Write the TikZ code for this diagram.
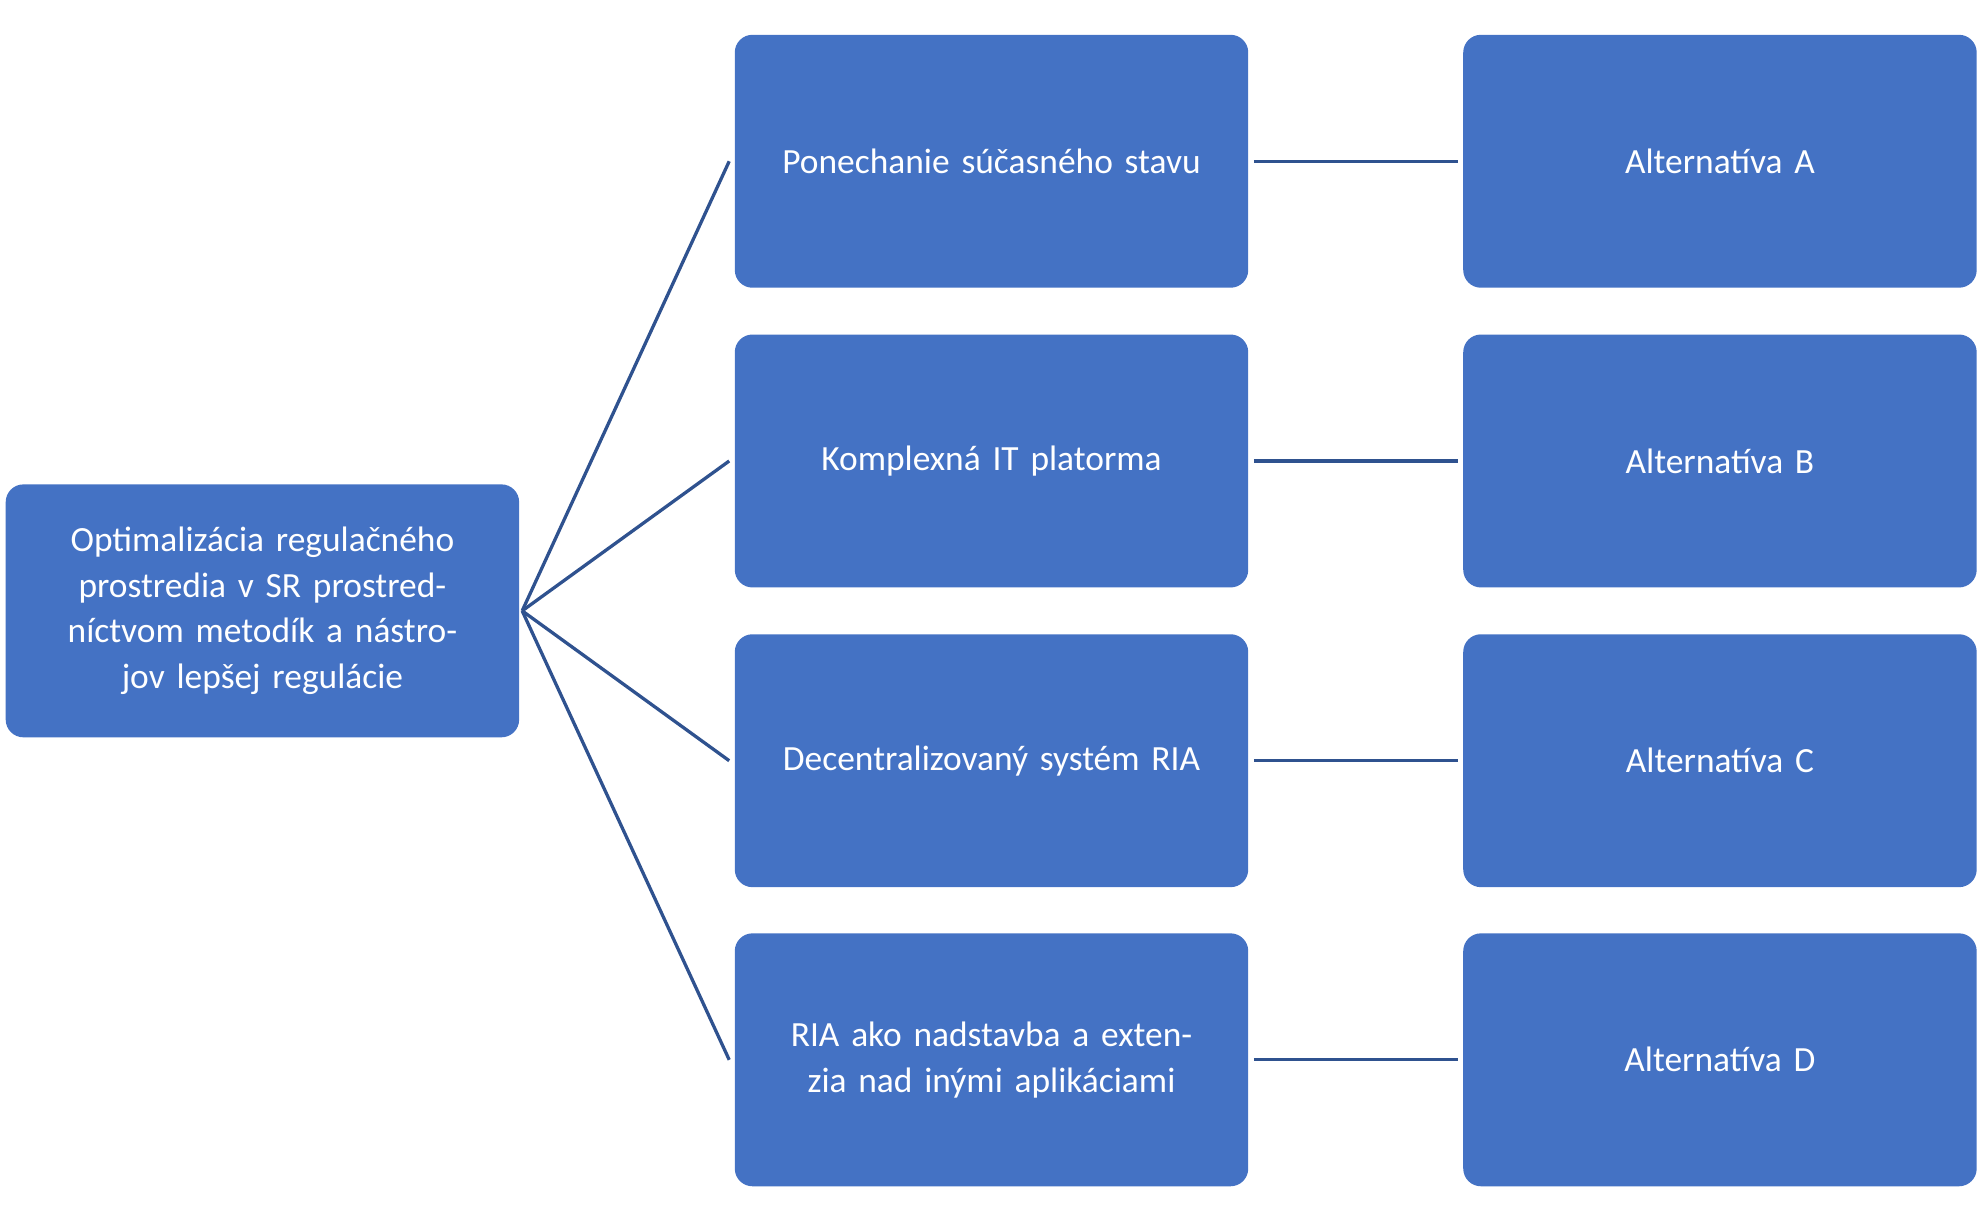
\documentclass[tikz,border=0pt]{standalone}
\usepackage{fontspec}
\setmainfont{Carlito}
\usetikzlibrary{positioning}
\definecolor{boxblue}{HTML}{4472C4}
\definecolor{lineblue}{HTML}{2F528F}
\begin{document}
\begin{tikzpicture}[x=0.5pt,y=-0.5pt,
      box/.style={fill=boxblue, rounded corners=7pt, minimum width=203pt,
        minimum height=100pt, text width=195pt, align=center, text=white,
        font=\fontsize{14}{18}\selectfont, inner sep=0pt},
      link/.style={draw=lineblue, line width=1.3pt}]
  \useasboundingbox (0,0) rectangle (1568,966);
  \node[box] (root) at (207.5,483) {Optimalizácia regulačného prostredia v SR prostredníctvom metodík a nástrojov lepšej regulácie};
  \node[box] (m1) at (784,127.5) {Ponechanie súčasného stavu};
  \node[box] (m2) at (784,364.5) {Komplexná IT platorma};
  \node[box] (m3) at (784,601.5) {Decentralizovaný systém RIA};
  \node[box] (m4) at (784,838) {RIA ako nadstavba a extenzia nad inými aplikáciami};
  \node[box] (a1) at (1360,127.5) {Alternatíva A};
  \node[box] (a2) at (1360,364.5) {Alternatíva B};
  \node[box] (a3) at (1360,601.5) {Alternatíva C};
  \node[box] (a4) at (1360,838) {Alternatíva D};
  \foreach \i in {1,...,4} {
    \draw[link] ([xshift=1pt]root.east) -- ([xshift=-2pt]m\i.west);
    \draw[link] ([xshift=2pt]m\i.east) -- ([xshift=-2pt]a\i.west);
  }
\end{tikzpicture}
\end{document}
